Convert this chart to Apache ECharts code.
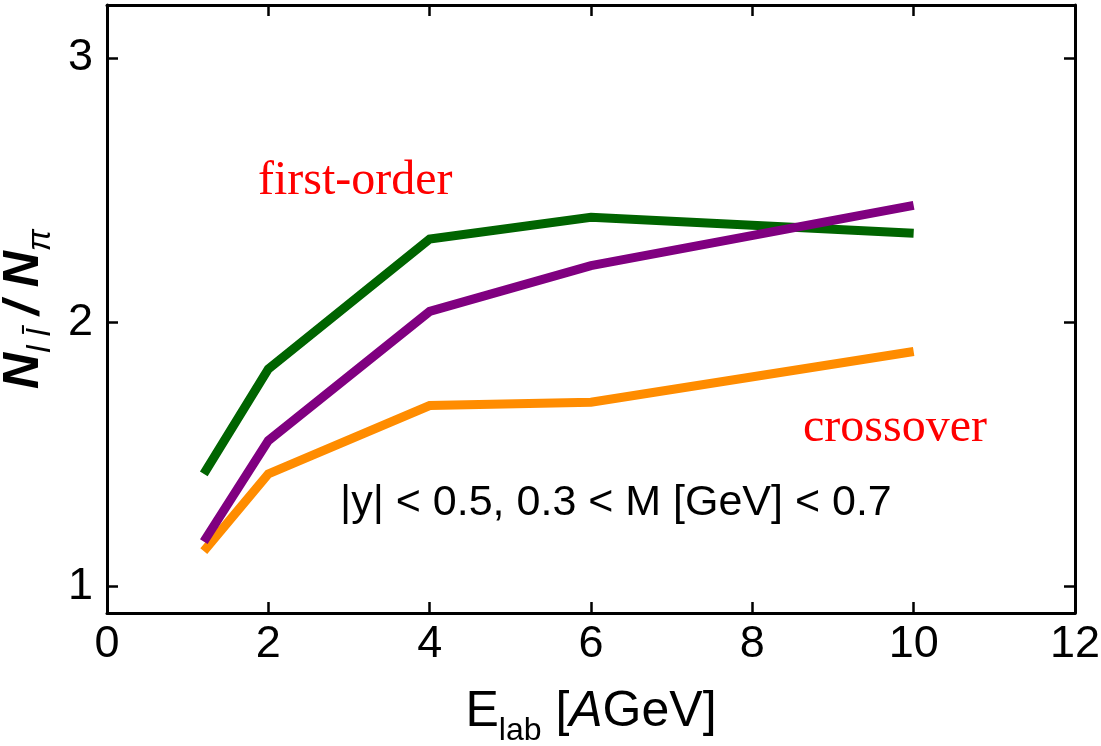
<!DOCTYPE html>
<html>
<head>
<meta charset="utf-8">
<script src="https://cdn.jsdelivr.net/npm/echarts@6/dist/echarts.min.js"></script>
<style>html,body{margin:0;padding:0;background:#fff;}#c{width:1101px;height:746px;}</style>
</head>
<body>
<div id="c"></div>
<script>
// Data
const energies = [1.2, 2, 4, 6, 10];            // E_lab [AGeV]
const firstOrderGreen = [1.426, 1.823, 2.315, 2.397, 2.337];
const purpleSeries    = [1.170, 1.552, 2.041, 2.214, 2.442];
const crossoverOrange = [1.134, 1.426, 1.685, 1.697, 1.889];
const xTicks = [0, 2, 4, 6, 8, 10, 12];
const yTicks = [1, 2, 3];

const pairs = (xs, ys) => xs.map((x, i) => [x, ys[i]]);

const chart = echarts.init(document.getElementById('c'), null, {renderer: 'canvas'});
const sansFont = "'Liberation Sans', Arial, sans-serif";
const serifFont = "'Liberation Serif', 'Times New Roman', serif";

const baseX = {
  type: 'value', min: 0, max: 12, interval: 2,
  axisLine: {show: true, onZero: false, lineStyle: {color: '#000', width: 3}},
  axisTick: {show: true, inside: true, length: 11, lineStyle: {color: '#000', width: 2.5}},
  splitLine: {show: false}
};
const baseY = {
  type: 'value', min: 0.9, max: 3.2,
  axisLine: {show: true, onZero: false, lineStyle: {color: '#000', width: 3}},
  axisTick: {show: true, inside: true, length: 11, customValues: yTicks, lineStyle: {color: '#000', width: 2.5}},
  splitLine: {show: false}
};

const lineSeries = (data, color) => ({
  type: 'line', data: data, xAxisIndex: 0, yAxisIndex: 0,
  showSymbol: false, symbol: 'none', smooth: false,
  lineStyle: {color: color, width: 9, cap: 'butt', join: 'miter'},
  animation: false
});

chart.setOption({
  animation: false,
  backgroundColor: '#fff',
  grid: {left: 107, top: 5, width: 968, height: 608, containLabel: false, outerBoundsMode: 'none'},
  xAxis: [
    Object.assign({}, baseX, {
      position: 'bottom',
      axisLabel: {show: true, customValues: xTicks, fontFamily: sansFont, fontSize: 45, color: '#000', margin: 9},
      name: '{m|E}{s|lab}{m| [}{i|A}{m|GeV]}',
      nameLocation: 'middle', nameGap: 68,
      nameTextStyle: {
        color: '#000',
        rich: {
          m: {fontFamily: sansFont, fontSize: 50, color: '#000', lineHeight: 56, verticalAlign: 'bottom'},
          i: {fontFamily: sansFont, fontSize: 50, fontStyle: 'italic', color: '#000', lineHeight: 56, verticalAlign: 'bottom'},
          s: {fontFamily: sansFont, fontSize: 32, color: '#000', lineHeight: 56, verticalAlign: 'bottom', padding: [0, 0, -10, 0]}
        }
      }
    }),
    Object.assign({}, baseX, {position: 'top', axisLabel: {show: false}})
  ],
  yAxis: [
    Object.assign({}, baseY, {
      position: 'left',
      axisLabel: {show: true, customValues: yTicks, fontFamily: sansFont, fontSize: 45, color: '#000', margin: 14},
      name: '{b|N}{s|l l\u0304}{b| / N}{s|\u03c0}',
      nameLocation: 'middle', nameRotate: 90, nameGap: 52,
      nameTextStyle: {
        rich: {
          b: {fontFamily: sansFont, fontSize: 50, fontWeight: 'bold', fontStyle: 'italic', color: '#000', lineHeight: 56, verticalAlign: 'bottom'},
          s: {fontFamily: sansFont, fontSize: 33, fontStyle: 'italic', color: '#000', lineHeight: 56, verticalAlign: 'bottom', padding: [0, 0, -8, 0]}
        }
      }
    }),
    Object.assign({}, baseY, {position: 'right', axisLabel: {show: false}})
  ],
  series: [
    lineSeries(pairs(energies, crossoverOrange), '#ff8c00'),
    lineSeries(pairs(energies, firstOrderGreen), '#006400'),
    lineSeries(pairs(energies, purpleSeries), '#800080')
  ],
  graphic: [
    {type: 'text', left: 258, top: 157, style: {text: 'first-order', fill: '#ff0000', font: '48px ' + serifFont}},
    {type: 'text', left: 803, top: 404, style: {text: 'crossover', fill: '#ff0000', font: '48px ' + serifFont}},
    {type: 'text', left: 340, top: 482, style: {text: '|y| < 0.5, 0.3 < M [GeV] < 0.7', fill: '#000', font: '43px ' + sansFont}}
  ]
});
</script>
</body>
</html>
